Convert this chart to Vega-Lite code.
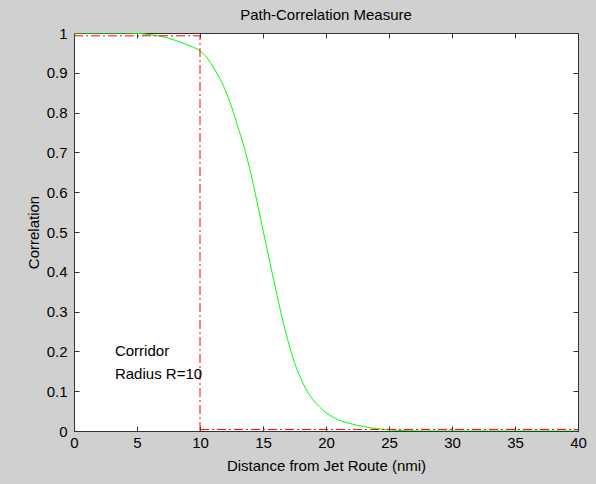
{
  "$schema": "https://vega.github.io/schema/vega-lite/v6.json",
  "autosize": {"type": "none"},
  "padding": {"left": 74, "top": 33, "right": 18, "bottom": 53},
  "width": 504,
  "height": 398,
  "background": "#d0d0d0",
  "title": {
    "text": "Path-Correlation Measure",
    "fontSize": 15,
    "fontWeight": "normal",
    "color": "#000000",
    "offset": 3,
    "anchor": "middle"
  },
  "datasets": {
    "curve": [
      {"dist": 0, "corr": 1.0},
      {"dist": 2, "corr": 1.0},
      {"dist": 4, "corr": 1.0},
      {"dist": 5, "corr": 0.999},
      {"dist": 6, "corr": 0.996},
      {"dist": 7, "corr": 0.991},
      {"dist": 8, "corr": 0.982},
      {"dist": 9, "corr": 0.97},
      {"dist": 10, "corr": 0.955},
      {"dist": 10.5, "corr": 0.94},
      {"dist": 11, "corr": 0.917},
      {"dist": 11.5, "corr": 0.89},
      {"dist": 12, "corr": 0.857},
      {"dist": 12.5, "corr": 0.815},
      {"dist": 13, "corr": 0.765},
      {"dist": 13.5, "corr": 0.713},
      {"dist": 14, "corr": 0.652},
      {"dist": 14.5, "corr": 0.58},
      {"dist": 15, "corr": 0.505},
      {"dist": 15.5, "corr": 0.43},
      {"dist": 16, "corr": 0.358},
      {"dist": 16.5, "corr": 0.287},
      {"dist": 17, "corr": 0.225},
      {"dist": 17.5, "corr": 0.172},
      {"dist": 18, "corr": 0.132},
      {"dist": 18.5, "corr": 0.1},
      {"dist": 19, "corr": 0.077},
      {"dist": 19.5, "corr": 0.06},
      {"dist": 20, "corr": 0.046},
      {"dist": 21, "corr": 0.028},
      {"dist": 22, "corr": 0.018},
      {"dist": 23, "corr": 0.011},
      {"dist": 24, "corr": 0.006},
      {"dist": 25, "corr": 0.003},
      {"dist": 26, "corr": 0.001},
      {"dist": 28, "corr": 0},
      {"dist": 30, "corr": 0},
      {"dist": 35, "corr": 0},
      {"dist": 40, "corr": 0}
    ],
    "corridor": [
      {"x": 0, "x2": 10, "y": 0.993, "y2": 0.993},
      {"x": 10, "x2": 10, "y": 0, "y2": 0.993},
      {"x": 10, "x2": 40, "y": 0.004, "y2": 0.004}
    ],
    "notes": [
      {"x": 3.25, "y": 0.202, "label": "Corridor"},
      {"x": 3.25, "y": 0.142, "label": "Radius R=10"}
    ]
  },
  "layer": [
    {
      "data": {"name": "curve"},
      "mark": {"type": "line", "color": "#00ff00", "strokeWidth": 1, "interpolate": "monotone", "clip": true},
      "encoding": {
        "x": {
          "field": "dist", "type": "quantitative",
          "scale": {"domain": [0, 40], "nice": false, "zero": false},
          "axis": {
            "orient": "bottom",
            "values": [0, 5, 10, 15, 20, 25, 30, 35, 40],
            "format": "d",
            "title": "Distance from Jet Route (nmi)"
          }
        },
        "y": {
          "field": "corr", "type": "quantitative",
          "scale": {"domain": [0, 1], "nice": false, "zero": false},
          "axis": {
            "orient": "left",
            "values": [0, 0.1, 0.2, 0.3, 0.4, 0.5, 0.6, 0.7, 0.8, 0.9, 1],
            "format": "~g",
            "title": "Correlation"
          }
        }
      }
    },
    {
      "data": {"name": "corridor"},
      "mark": {"type": "rule", "color": "#ff0000", "strokeWidth": 1, "strokeDash": [9, 3, 2, 3]},
      "encoding": {
        "x": {
          "field": "x", "type": "quantitative",
          "axis": {
            "orient": "top",
            "values": [0, 5, 10, 15, 20, 25, 30, 35, 40],
            "labels": false,
            "title": null
          }
        },
        "x2": {"field": "x2"},
        "y": {
          "field": "y", "type": "quantitative",
          "axis": {
            "orient": "right",
            "values": [0, 0.1, 0.2, 0.3, 0.4, 0.5, 0.6, 0.7, 0.8, 0.9, 1],
            "labels": false,
            "title": null
          }
        },
        "y2": {"field": "y2"}
      }
    },
    {
      "data": {"name": "notes"},
      "mark": {"type": "text", "align": "left", "baseline": "middle", "fontSize": 15, "color": "#000000"},
      "encoding": {
        "x": {"field": "x", "type": "quantitative", "axis": null},
        "y": {"field": "y", "type": "quantitative", "axis": null},
        "text": {"field": "label"}
      }
    }
  ],
  "resolve": {"axis": {"x": "independent", "y": "independent"}},
  "config": {
    "font": "Liberation Sans",
    "view": {"fill": "#ffffff", "stroke": "#333333", "strokeWidth": 1},
    "axis": {
      "grid": false,
      "domainColor": "#333333",
      "tickColor": "#333333",
      "tickSize": -5,
      "labelFlush": false,
      "labelOverlap": false,
      "labelFontSize": 15,
      "labelColor": "#000000",
      "labelPadding": 12,
      "titleFontSize": 15,
      "titleFontWeight": "normal",
      "titleColor": "#000000"
    },
    "axisX": {"labelPadding": 9, "titlePadding": 8},
    "axisY": {"titlePadding": 5}
  }
}
